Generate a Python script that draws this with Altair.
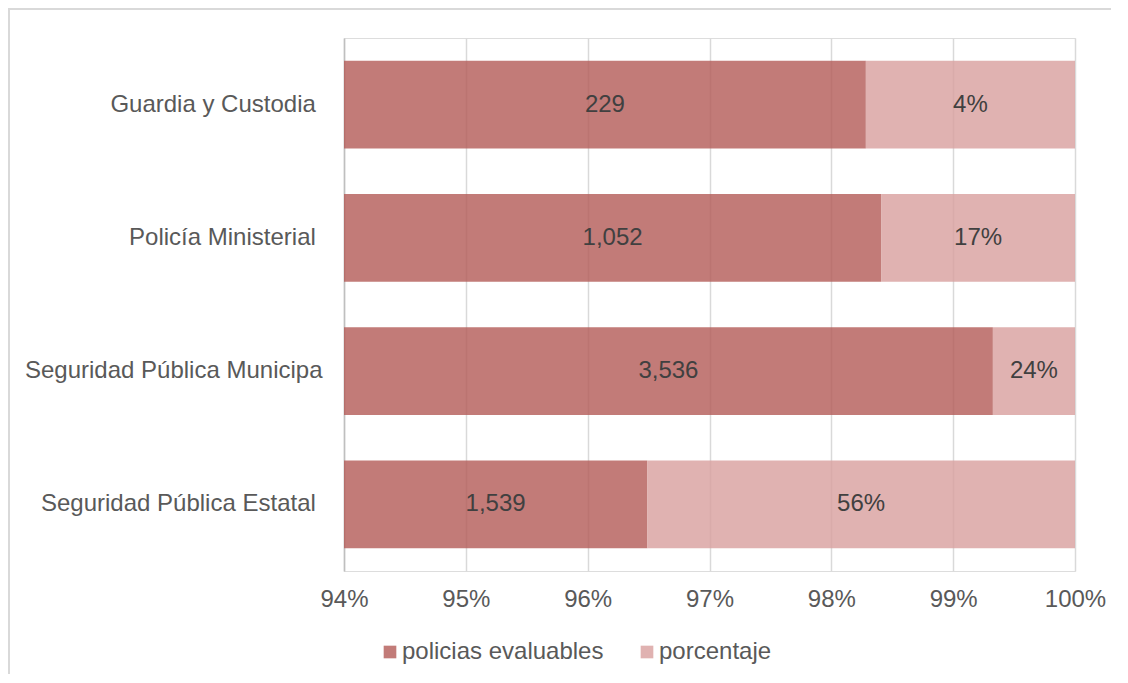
import altair as alt
import pandas as pd

categorias = ["Guardia y Custodia", "Policía Ministerial", "Seguridad Pública Municipa", "Seguridad Pública Estatal"]
policias_evaluables = [229, 1052, 3536, 1539]
porcentaje = [4, 17, 24, 56]
series = ["policias evaluables", "porcentaje"]
colores = ["#B35A56", "#D89F9D"]
ticks_x = [0.94, 0.95, 0.96, 0.97, 0.98, 0.99, 1.00]

rows = []
for c, e, p in zip(categorias, policias_evaluables, porcentaje):
    rows.append({"categoria": c, "serie": series[0], "valor": e, "orden": 0})
    rows.append({"categoria": c, "serie": series[1], "valor": p, "orden": 1})
df = pd.DataFrame(rows)

FONT = "Liberation Sans"
W, H = 731, 533
PL, PT = 336, 30

base = alt.Chart(df).transform_stack(
    stack="valor", groupby=["categoria"], as_=["v0", "v1"], offset="normalize",
    sort=[alt.SortField("orden", order="ascending")]
).transform_calculate(
    mid="(max(datum.v0, 0.94) + datum.v1) / 2",
    etiqueta="datum.orden == 0 ? format(datum.valor, ',') : datum.valor + '%'"
)

xscale = alt.Scale(domain=[0.94, 1.0], nice=False, zero=False)
yenc = alt.Y("categoria:N", sort=categorias,
             scale=alt.Scale(paddingInner=0.34, paddingOuter=0.17),
             axis=alt.Axis(title=None, ticks=False, domainColor="#BFBFBF", domainWidth=1.5,
                           labelPadding=22, labelFontSize=24, labelFont=FONT, labelColor="#595959",
                           labelExpr="datum.label == 'Seguridad Pública Municipa' ? datum.label : datum.label + '\u00a0\u2060'",
                           labelLimit=400, grid=False))

bars = base.mark_bar(clip=True, opacity=0.8).encode(
    x=alt.X("v0:Q", scale=xscale,
            axis=alt.Axis(title=None, values=ticks_x, format=".0%", grid=True, gridColor="#D9D9D9",
                          gridWidth=1.5, domain=False, ticks=False, labelPadding=16,
                          labelFlush=False, labelBound=False, labelOverlap=False,
                          labelFontSize=24, labelFont=FONT, labelColor="#595959")),
    x2="v1:Q",
    y=yenc,
    color=alt.Color("serie:N", sort=series,
                    scale=alt.Scale(domain=series, range=colores),
                    legend=alt.Legend(title=None, orient="none", direction="horizontal",
                                      legendX=34, legendY=602, symbolType="square", symbolSize=160,
                                      symbolOpacity=0.8, symbolStrokeWidth=0, labelLimit=400,
                                      labelFontSize=24, labelFont=FONT, labelColor="#595959",
                                      labelOffset=0, columnPadding=31)),
)

texts = base.mark_text(fontSize=24, font=FONT, color="#404040").encode(
    x=alt.X("mid:Q", scale=xscale),
    y=alt.Y("categoria:N", sort=categorias),
    text="etiqueta:N",
)

frame_top = alt.Chart(df).mark_rule(color="#D9D9D9", strokeWidth=2).encode(
    x=alt.value(-PL), x2=alt.value(W + 36), y=alt.value(-PT + 1)
)
frame_left = alt.Chart(df).mark_rule(color="#D9D9D9", strokeWidth=2).encode(
    x=alt.value(-PL + 1), y=alt.value(-PT), y2=alt.value(H + 200)
)

chart = alt.layer(frame_top, frame_left, bars, texts).properties(
    width=W, height=H,
    autosize=alt.AutoSizeParams(type="none"),
    padding={"left": PL, "top": PT, "right": 1112 - PL - W, "bottom": 666 - PT - H},
).configure_view(stroke=None).configure(background="white")

chart.save("out.html", embed_options={"renderer": "svg", "actions": False})
